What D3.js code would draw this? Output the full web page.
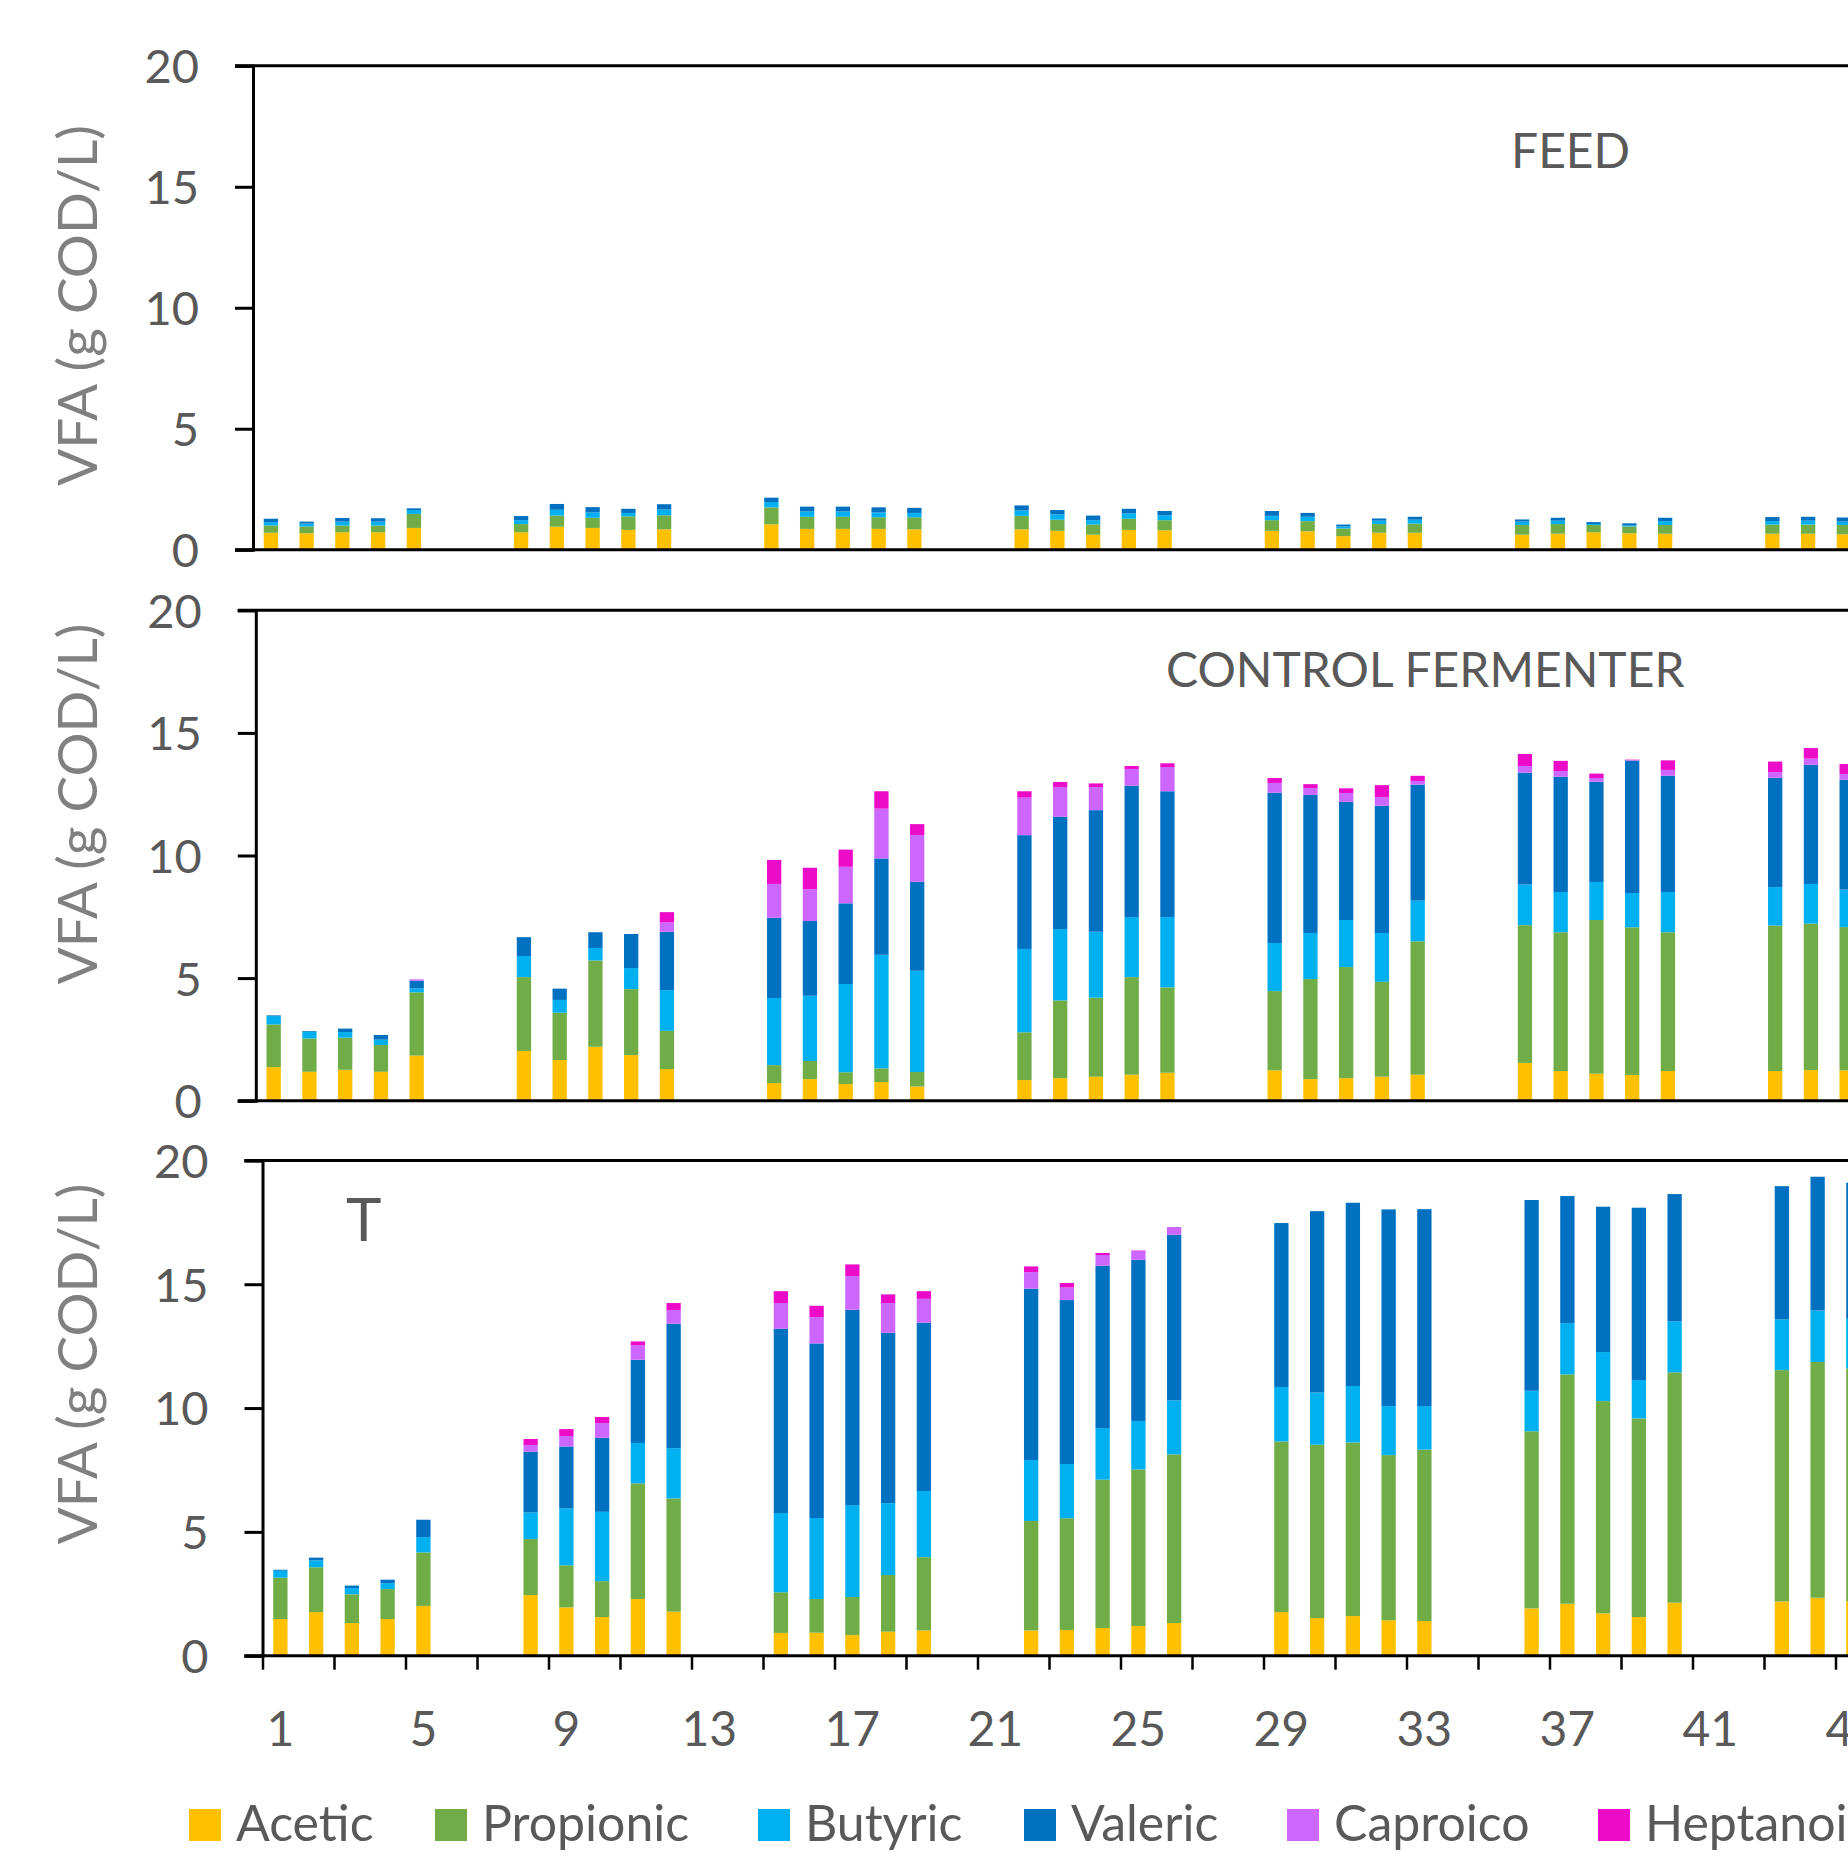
<!DOCTYPE html>
<html>
<head>
<meta charset="utf-8">
<script src="https://cdn.jsdelivr.net/npm/d3@7"></script>
<style>
html,body{margin:0;padding:0;background:#fff;overflow:hidden;}
svg{display:block;}
text{font-family:Lato,"Open Sans",sans-serif;}
</style>
</head>
<body>
<svg id="chart" width="1848" height="1853"></svg>
<script>
// ---- DATA ----
const days = [1,2,3,4,5,8,9,10,11,12,15,16,17,18,19,22,23,24,25,26,29,30,31,32,33,36,37,38,39,40,43,44,45];
const seriesNames = ["Acetic","Propionic","Butyric","Valeric","Caproico","Heptanoic"];
const seriesColors = ["#FFC000","#70AD47","#00B0F0","#0070C0","#CC66FF","#EC0BC8"];
const yTicks = [0,5,10,15,20];
const xLabelDays = [1,5,9,13,17,21,25,29,33,37,41,45];

// FEED
const feedAcetic    = [0.70,0.68,0.72,0.72,0.90, 0.72,0.95,0.90,0.82,0.84, 1.05,0.86,0.86,0.86,0.84, 0.84,0.78,0.62,0.82,0.80, 0.78,0.76,0.56,0.70,0.70, 0.62,0.66,0.72,0.68,0.66, 0.66,0.66,0.64];
const feedPropionic = [0.30,0.28,0.28,0.28,0.58, 0.34,0.46,0.42,0.56,0.58, 0.70,0.50,0.50,0.48,0.50, 0.56,0.46,0.42,0.46,0.42, 0.44,0.42,0.32,0.36,0.38, 0.40,0.40,0.30,0.28,0.36, 0.38,0.38,0.38];
const feedButyric   = [0.14,0.12,0.16,0.16,0.16, 0.16,0.24,0.22,0.14,0.24, 0.22,0.22,0.22,0.20,0.18, 0.22,0.22,0.18,0.22,0.20, 0.18,0.18,0.08,0.14,0.16, 0.14,0.14,0.04,0.04,0.16, 0.14,0.16,0.14];
const feedValeric   = [0.14,0.08,0.15,0.14,0.07, 0.17,0.24,0.22,0.17,0.22, 0.18,0.20,0.20,0.21,0.21, 0.21,0.18,0.19,0.19,0.18, 0.20,0.16,0.08,0.09,0.12, 0.09,0.12,0.08,0.09,0.14, 0.17,0.16,0.17];
const feedCaproico  = [0,0,0,0,0, 0,0,0,0,0, 0,0,0,0,0, 0,0,0,0,0, 0,0,0,0,0, 0,0,0,0,0, 0,0,0];
const feedHeptanoic = [0,0,0,0,0, 0,0,0,0,0, 0,0,0,0,0, 0,0,0,0,0, 0,0,0,0,0, 0,0,0,0,0, 0,0,0];

// CONTROL FERMENTER
const ctrlAcetic    = [1.37,1.18,1.26,1.18,1.84, 2.03,1.66,2.20,1.86,1.29, 0.72,0.88,0.68,0.76,0.58, 0.84,0.92,0.98,1.06,1.14, 1.24,0.88,0.92,0.98,1.06, 1.54,1.21,1.10,1.05,1.21, 1.21,1.25,1.24];
const ctrlPropionic = [1.74,1.36,1.31,1.09,2.58, 3.01,1.93,3.52,2.69,1.56, 0.73,0.74,0.48,0.56,0.59, 1.95,3.17,3.22,3.98,3.48, 3.23,4.08,4.53,3.87,5.44, 5.62,5.66,6.27,6.02,5.66, 5.93,5.97,5.84];
const ctrlButyric   = [0.34,0.27,0.23,0.22,0.16, 0.86,0.52,0.51,0.86,1.66, 2.74,2.66,3.60,4.63,4.13, 3.40,2.91,2.69,2.45,2.87, 1.96,1.88,1.92,1.99,1.66, 1.66,1.64,1.55,1.40,1.64, 1.57,1.62,1.53];
const ctrlValeric   = [0.03,0.03,0.14,0.19,0.31, 0.77,0.46,0.64,1.39,2.38, 3.27,3.05,3.29,3.93,3.63, 4.64,4.58,4.96,5.36,5.13, 6.13,5.63,4.82,5.19,4.73, 4.56,4.70,4.09,5.40,4.74, 4.46,4.86,4.48];
const ctrlCaproico  = [0,0,0,0,0.06, 0,0,0,0,0.38, 1.38,1.29,1.49,2.03,1.90, 1.53,1.21,0.94,0.68,0.99, 0.40,0.28,0.36,0.35,0.15, 0.27,0.23,0.15,0.02,0.24, 0.23,0.25,0.23];
const ctrlHeptanoic = [0,0,0,0,0, 0,0,0,0,0.42, 0.98,0.88,0.70,0.71,0.45, 0.26,0.21,0.15,0.12,0.15, 0.20,0.16,0.19,0.49,0.21, 0.49,0.42,0.18,0.02,0.39, 0.43,0.43,0.41];

// T
const tAcetic    = [1.48,1.76,1.32,1.48,2.01, 2.45,1.95,1.56,2.29,1.78, 0.92,0.93,0.83,0.97,1.02, 1.02,1.04,1.12,1.20,1.32, 1.76,1.52,1.60,1.43,1.40, 1.91,2.10,1.71,1.56,2.14, 2.19,2.34,2.20];
const tPropionic = [1.67,1.81,1.16,1.21,2.16, 2.26,1.70,1.45,4.67,4.57, 1.64,1.36,1.54,2.29,2.96, 4.42,4.51,5.99,6.32,6.81, 6.89,7.00,7.01,6.67,6.92, 7.15,9.26,8.57,8.02,9.30, 9.34,9.52,9.40];
const tButyric   = [0.28,0.28,0.25,0.24,0.62, 1.08,2.30,2.80,1.63,2.03, 3.20,3.27,3.71,2.90,2.67, 2.46,2.19,2.08,1.96,2.18, 2.20,2.11,2.28,1.98,1.76, 1.64,2.07,1.98,1.55,2.06, 2.05,2.08,2.00];
const tValeric   = [0.04,0.11,0.10,0.14,0.70, 2.45,2.50,2.99,3.36,5.03, 7.44,7.05,7.89,6.88,6.80, 6.92,6.62,6.56,6.51,6.69, 6.62,7.32,7.40,7.94,7.95, 7.70,5.13,5.87,6.96,5.14, 5.38,5.40,5.50];
const tCaproico  = [0,0,0,0,0, 0.27,0.42,0.59,0.58,0.55, 1.04,1.06,1.36,1.20,0.96, 0.67,0.51,0.43,0.35,0.31, 0,0,0,0,0, 0,0,0,0,0, 0,0,0];
const tHeptanoic = [0,0,0,0,0, 0.24,0.28,0.25,0.16,0.28, 0.48,0.46,0.47,0.35,0.31, 0.23,0.18,0.08,0.02,0, 0,0,0,0,0, 0,0,0,0,0, 0,0,0];

const panels = [
  {label:"FEED", series:[feedAcetic,feedPropionic,feedButyric,feedValeric,feedCaproico,feedHeptanoic],
   left:253, top:65.8, bottom:549.7, titleY:305.6, lab:{x:1511,y:168.4,size:48}, xAxis:false},
  {label:"CONTROL FERMENTER", series:[ctrlAcetic,ctrlPropionic,ctrlButyric,ctrlValeric,ctrlCaproico,ctrlHeptanoic],
   left:255.8, top:610.3, bottom:1100.7, titleY:804, lab:{x:1166,y:687.4,size:48}, xAxis:false},
  {label:"T", series:[tAcetic,tPropionic,tButyric,tValeric,tCaproico,tHeptanoic],
   left:262.5, top:1160.4, bottom:1655.7, titleY:1364, lab:{x:346,y:1241,size:60}, xAxis:true}
];

// ---- DRAW ----
const svg = d3.select("#chart");
const step = 35.75;
const nCat = 50;
const allCats = d3.range(1, nCat+1);
const tickColor = "#595959";

panels.forEach(p => {
  const x = d3.scaleBand().domain(allCats).range([p.left, p.left + nCat*step]).paddingInner(0.6).paddingOuter(0.3);
  const y = d3.scaleLinear().domain([0,20]).range([p.bottom, p.top]);
  const rows = days.map((d,i) => {
    const r = {day:d};
    seriesNames.forEach((s,k) => r[s] = p.series[k][i]);
    return r;
  });
  const stacked = d3.stack().keys(seriesNames)(rows);
  const g = svg.append("g");
  stacked.forEach((layer,k) => {
    g.append("g").attr("fill", seriesColors[k])
      .selectAll("rect").data(layer).join("rect")
      .attr("x", d => x(d.data.day))
      .attr("width", x.bandwidth())
      .attr("y", d => y(d[1]))
      .attr("height", d => Math.max(0, y(d[0]) - y(d[1])));
  });

  // y axis
  const yAxis = g.append("g").attr("transform", `translate(${p.left},0)`)
    .call(d3.axisLeft(y).tickValues(yTicks).tickSize(18).tickPadding(36));
  yAxis.select(".domain").attr("stroke","#000").attr("stroke-width",3);
  yAxis.selectAll(".tick line").attr("stroke","#000").attr("stroke-width",3);
  yAxis.selectAll(".tick text").attr("fill",tickColor).style("font-size","47px").attr("dy","0.36em");

  // top border and zero line
  g.append("line").attr("x1", p.left-18).attr("x2", 1900).attr("y1", y(20)).attr("y2", y(20))
    .attr("stroke","#000").attr("stroke-width",3);
  g.append("line").attr("x1", p.left-18).attr("x2", 1900).attr("y1", y(0)).attr("y2", y(0))
    .attr("stroke","#000").attr("stroke-width",3);

  if (p.xAxis) {
    const xb = d3.scaleLinear().domain([0,nCat]).range([p.left, p.left+nCat*step]);
    const xt = g.append("g").attr("transform", `translate(0,${p.bottom})`)
      .call(d3.axisBottom(xb).tickValues(d3.range(0,nCat+1,2)).tickSize(14).tickFormat(""));
    xt.select(".domain").remove();
    xt.selectAll(".tick line").attr("stroke","#000").attr("stroke-width",2.5);
    const xl = g.append("g").attr("transform", `translate(0,${p.bottom})`)
      .call(d3.axisBottom(x).tickValues(xLabelDays).tickSize(0).tickPadding(56));
    xl.select(".domain").remove();
    xl.selectAll(".tick text").attr("fill",tickColor).style("font-size","48px");
  }

  // y title
  svg.append("text").attr("transform", `translate(97,${p.titleY}) rotate(-90)`)
    .attr("text-anchor","middle").attr("fill","#808080").style("font-size","55px")
    .text("VFA (g COD/L)");

  // panel label
  svg.append("text").attr("x", p.lab.x).attr("y", p.lab.y).attr("fill",tickColor)
    .style("font-size", p.lab.size+"px").text(p.label);
});

// legend
const legendX = [189,435,758,1024,1287,1598];
const leg = svg.append("g");
seriesNames.forEach((s,k) => {
  leg.append("rect").attr("x", legendX[k]).attr("y", 1809).attr("width", 32).attr("height", 32).attr("fill", seriesColors[k]);
  leg.append("text").attr("x", legendX[k]+47).attr("y", 1841).attr("fill", tickColor).style("font-size","50px").text(s);
});
</script>
</body>
</html>
